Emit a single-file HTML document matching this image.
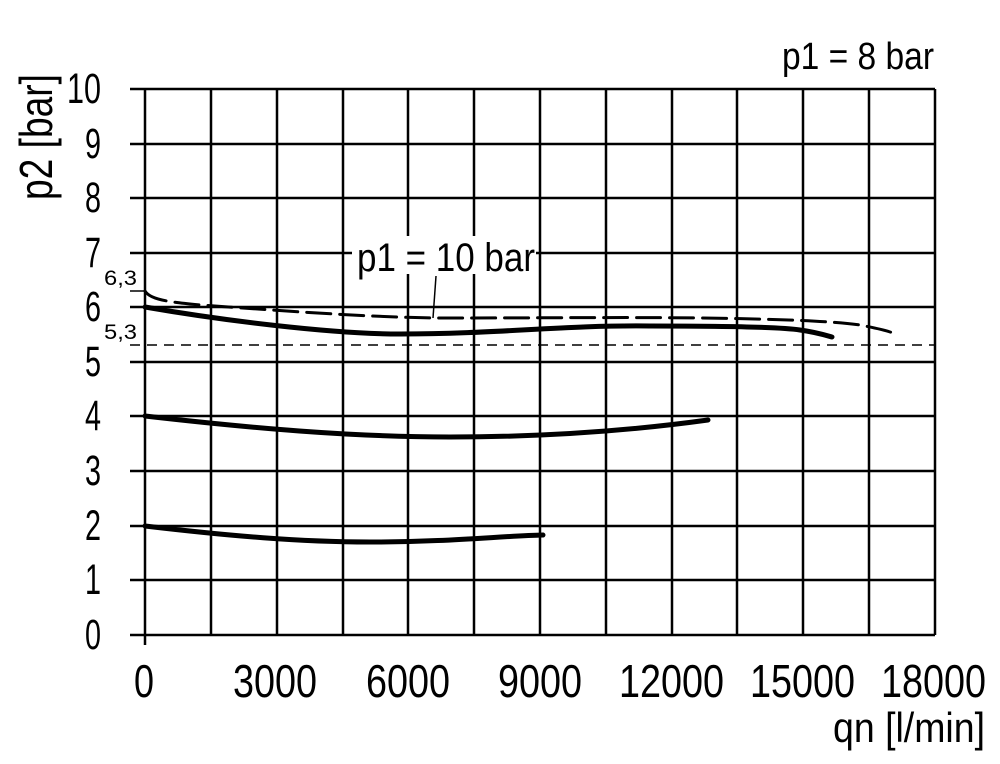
<!DOCTYPE html>
<html><head><style>body{margin:0;background:#fff}svg{display:block}</style></head><body>
<svg width="1000" height="764" xmlns="http://www.w3.org/2000/svg" font-family="Liberation Sans, sans-serif">
<rect width="1000" height="764" fill="#fff"/>
<g stroke="#000" stroke-width="2.5">
<line x1="145" y1="89" x2="145" y2="645"/>
<line x1="211" y1="89" x2="211" y2="635"/>
<line x1="277" y1="89" x2="277" y2="635"/>
<line x1="343" y1="89" x2="343" y2="635"/>
<line x1="408" y1="89" x2="408" y2="635"/>
<line x1="474" y1="89" x2="474" y2="635"/>
<line x1="540" y1="89" x2="540" y2="635"/>
<line x1="606" y1="89" x2="606" y2="635"/>
<line x1="672" y1="89" x2="672" y2="635"/>
<line x1="737" y1="89" x2="737" y2="635"/>
<line x1="803" y1="89" x2="803" y2="635"/>
<line x1="869" y1="89" x2="869" y2="635"/>
<line x1="935" y1="89" x2="935" y2="635"/>
<line x1="130" y1="89" x2="935" y2="89"/>
<line x1="130" y1="144" x2="935" y2="144"/>
<line x1="130" y1="198" x2="935" y2="198"/>
<line x1="130" y1="253" x2="935" y2="253"/>
<line x1="130" y1="307" x2="935" y2="307"/>
<line x1="130" y1="362" x2="935" y2="362"/>
<line x1="130" y1="416" x2="935" y2="416"/>
<line x1="130" y1="471" x2="935" y2="471"/>
<line x1="130" y1="526" x2="935" y2="526"/>
<line x1="130" y1="580" x2="935" y2="580"/>
<line x1="130" y1="635" x2="935" y2="635"/>
</g>
<line x1="130" y1="291" x2="145" y2="291" stroke="#000" stroke-width="1.5"/>
<line x1="130" y1="345" x2="935" y2="345" stroke="#000" stroke-width="1.5" stroke-dasharray="10,7"/>
<rect x="352" y="236" width="184" height="38" fill="#fff"/>
<text x="357" y="271" font-size="40" textLength="178" lengthAdjust="spacingAndGlyphs">p1 = 10 bar</text>
<path d="M436,276 L433,318" stroke="#000" stroke-width="1.5" fill="none"/>
<g fill="none" stroke="#000" stroke-linecap="round">
<path d="M145,291 C150,300 170,302 200,305 C300,312 380,318 450,318 C550,318 620,317 700,318 C780,319 830,321 860,325 C875,328 885,330 893,333" stroke-width="3" stroke-dasharray="24,9"/>
<path d="M145,307 C220,320 330,334 400,334 C500,334 560,325 650,326 C730,326 780,327 800,330 C815,332 825,335 832,337" stroke-width="5"/>
<path d="M145,416 C250,428 350,437 450,437 C560,437 650,428 708,420" stroke-width="5"/>
<path d="M145,526 C230,536 300,542 370,542 C450,542 500,536 543,535" stroke-width="5"/>
</g>
<g font-size="43" text-anchor="end">
<text x="101" y="103" textLength="34" lengthAdjust="spacingAndGlyphs">10</text>
<text x="101" y="158" textLength="16" lengthAdjust="spacingAndGlyphs">9</text>
<text x="101" y="212" textLength="16" lengthAdjust="spacingAndGlyphs">8</text>
<text x="101" y="267" textLength="16" lengthAdjust="spacingAndGlyphs">7</text>
<text x="101" y="321" textLength="16" lengthAdjust="spacingAndGlyphs">6</text>
<text x="101" y="376" textLength="16" lengthAdjust="spacingAndGlyphs">5</text>
<text x="101" y="430" textLength="16" lengthAdjust="spacingAndGlyphs">4</text>
<text x="101" y="485" textLength="16" lengthAdjust="spacingAndGlyphs">3</text>
<text x="101" y="540" textLength="16" lengthAdjust="spacingAndGlyphs">2</text>
<text x="101" y="594" textLength="16" lengthAdjust="spacingAndGlyphs">1</text>
<text x="101" y="649" textLength="16" lengthAdjust="spacingAndGlyphs">0</text>
</g>
<text x="104" y="285" font-size="21" textLength="33" lengthAdjust="spacingAndGlyphs">6,3</text>
<text x="104" y="339" font-size="21" textLength="33" lengthAdjust="spacingAndGlyphs">5,3</text>
<g font-size="46">
<text x="134" y="697" textLength="20" lengthAdjust="spacingAndGlyphs">0</text>
<text x="233" y="697" textLength="84" lengthAdjust="spacingAndGlyphs">3000</text>
<text x="366" y="697" textLength="84" lengthAdjust="spacingAndGlyphs">6000</text>
<text x="498" y="697" textLength="84" lengthAdjust="spacingAndGlyphs">9000</text>
<text x="619" y="697" textLength="105" lengthAdjust="spacingAndGlyphs">12000</text>
<text x="750" y="697" textLength="105" lengthAdjust="spacingAndGlyphs">15000</text>
<text x="881" y="697" textLength="105" lengthAdjust="spacingAndGlyphs">18000</text>
</g>
<text x="833" y="742" font-size="42" textLength="152" lengthAdjust="spacingAndGlyphs">qn [l/min]</text>
<text x="782" y="69" font-size="38" textLength="152" lengthAdjust="spacingAndGlyphs">p1 = 8 bar</text>
<text transform="translate(52,200) rotate(-90)" font-size="46" textLength="126" lengthAdjust="spacingAndGlyphs">p2 [bar]</text>
</svg>
</body></html>
